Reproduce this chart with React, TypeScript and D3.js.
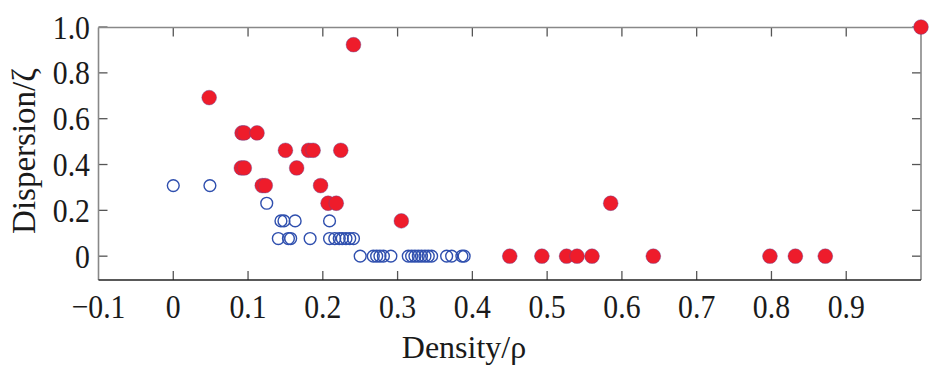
import React from "react";
import * as d3 from "d3";

const W = 933;
const H = 378;

// Open (blue) series
const openDensity = [
  0.0, 0.049, 0.125,
  0.144, 0.148, 0.163, 0.209,
  0.1405, 0.154, 0.157, 0.183, 0.209, 0.216, 0.222, 0.226, 0.231, 0.236, 0.241,
  0.25, 0.2675, 0.272, 0.2764, 0.281, 0.291, 0.3143, 0.3188, 0.3232, 0.3277, 0.332, 0.3366, 0.341, 0.3455, 0.3656, 0.3723, 0.386, 0.389,
];
const openDispersion = [
  0.308, 0.308, 0.231,
  0.154, 0.154, 0.154, 0.154,
  0.077, 0.077, 0.077, 0.077, 0.077, 0.077, 0.077, 0.077, 0.077, 0.077, 0.077,
  0, 0, 0, 0, 0, 0, 0, 0, 0, 0, 0, 0, 0, 0, 0, 0, 0, 0,
];

// Filled (red) series
const filledDensity = [
  0.048, 0.241, 0.092, 0.095, 0.112, 0.15, 0.181, 0.187, 0.224, 0.091, 0.095, 0.165,
  0.119, 0.123, 0.197, 0.207, 0.218, 0.305, 0.585, 0.45, 0.493, 0.526, 0.54, 0.56,
  0.642, 0.798, 0.832, 0.872, 1.0,
];
const filledDispersion = [
  0.692, 0.923, 0.538, 0.538, 0.538, 0.462, 0.462, 0.462, 0.462, 0.385, 0.385, 0.385,
  0.308, 0.308, 0.308, 0.231, 0.231, 0.154, 0.231, 0, 0, 0, 0, 0,
  0, 0, 0, 0, 1.0,
];

const xTicks = [-0.1, 0, 0.1, 0.2, 0.3, 0.4, 0.5, 0.6, 0.7, 0.8, 0.9];
const xTickLabels = ["\u22120.1", "0", "0.1", "0.2", "0.3", "0.4", "0.5", "0.6", "0.7", "0.8", "0.9"];
const yTicks = [0, 0.2, 0.4, 0.6, 0.8, 1.0];
const yTickLabels = ["0", "0.2", "0.4", "0.6", "0.8", "1.0"];

const xLabel = "Density/\u03c1";
const yLabel = "Dispersion/\u03b6";

const left = 98.5;
const right = 921;
const top = 27.5;
const bottom = 280;

export default function App() {
  const x = d3.scaleLinear().domain([-0.1, 1.0]).range([left, right]);
  const y = d3.scaleLinear().domain([-0.104, 0.998]).range([bottom, top]);
  const font = "'Liberation Serif', 'Times New Roman', serif";
  const tickLen = 9;
  const openPts = openDensity.map((d, i) => [d, openDispersion[i]]);
  const filledPts = filledDensity.map((d, i) => [d, filledDispersion[i]]);
  const x0 = x(-0.1);
  const x1 = x(1.0);
  const cond = "scale(0.93,1.08)";
  return (
    <svg
      width={W}
      height={H}
      style={{ position: "absolute", left: 0, top: 0, background: "#fff" }}
      fontFamily={font}
    >
      <rect x={0} y={0} width={W} height={H} fill="#fff" />
      {/* ticks */}
      {xTicks.slice(1).map((t, i) => (
        <g key={"xt" + i} stroke="#555" strokeWidth={1.3}>
          <line x1={x(t)} x2={x(t)} y1={bottom} y2={bottom - tickLen} />
          <line x1={x(t)} x2={x(t)} y1={top} y2={top + tickLen} />
        </g>
      ))}
      {yTicks.map((t, i) => (
        <g key={"yt" + i} stroke="#555" strokeWidth={1.3}>
          <line x1={x0} x2={x0 + tickLen} y1={y(t)} y2={y(t)} />
          <line x1={x1} x2={x1 - tickLen} y1={y(t)} y2={y(t)} />
        </g>
      ))}
      {/* frame */}
      <line x1={x0} x2={x1} y1={top} y2={top} stroke="#888" strokeWidth={1.6} />
      <line x1={x0} x2={x0} y1={top} y2={bottom} stroke="#888" strokeWidth={1.6} />
      <line x1={x1} x2={x1} y1={top} y2={bottom} stroke="#888" strokeWidth={1.6} />
      <line x1={x0} x2={x1} y1={bottom} y2={bottom} stroke="#222" strokeWidth={1.6} />
      {/* tick labels */}
      {xTicks.map((t, i) => (
        <text
          key={"xl" + i}
          transform={`translate(${x(t)},318) ${cond}`}
          textAnchor="middle"
          fontSize={32}
          fill="#1a1a1a"
        >
          {xTickLabels[i]}
        </text>
      ))}
      {yTicks.map((t, i) => (
        <text
          key={"yl" + i}
          transform={`translate(90,${y(t) + 11.5}) ${cond}`}
          textAnchor="end"
          fontSize={32}
          fill="#1a1a1a"
        >
          {yTickLabels[i]}
        </text>
      ))}
      <text x={464} y={358} textAnchor="middle" fontSize={32} fill="#1a1a1a">
        {xLabel}
      </text>
      <text
        transform={`translate(35,151) rotate(-90)`}
        textAnchor="middle"
        fontSize={33}
        fill="#1a1a1a"
      >
        {yLabel}
      </text>
      {/* points */}
      {openPts.map((p, i) => (
        <circle
          key={"o" + i}
          cx={x(p[0])}
          cy={y(p[1])}
          r={5.9}
          fill="none"
          stroke="#2f4fae"
          strokeWidth={1.4}
        />
      ))}
      {filledPts.map((p, i) => (
        <circle
          key={"f" + i}
          cx={x(p[0])}
          cy={y(p[1])}
          r={7.4}
          fill="#ee1c2b"
          stroke="#5a4a9a"
          strokeWidth={0.4}
        />
      ))}
    </svg>
  );
}
